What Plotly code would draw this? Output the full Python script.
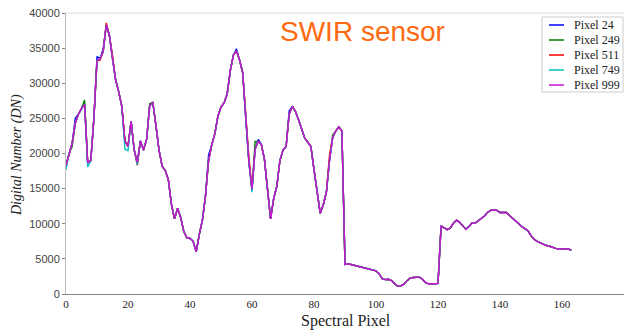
import plotly.graph_objects as go

# ---------------- data ----------------
spectral_pixel = list(range(0, 164))

base_dn = [
    18300, 20000, 21500, 24300, 25600, 26400, 27000, 18700, 19000, 25000,   # 0-9
    33200, 33500, 34500, 38300, 36800, 33500, 30500, 28800, 26700, 21800,   # 10-19
    21000, 24600, 20500, 18700, 21800, 20500, 22000, 26800, 27300, 24000,   # 20-29
    20500, 18200, 17600, 16300, 12800, 10700, 12200, 10900, 8900, 8000,     # 30-39
    7900, 7500, 6000, 8500, 10500, 14000, 19000, 21200, 22800, 25300,       # 40-49
    26600, 27200, 28500, 31800, 34000, 34600, 33300, 31500, 24800, 18800,   # 50-59
    14900, 20600, 21700, 21300, 19200, 15200, 10700, 13600, 15300, 19000,   # 60-69
    20500, 21000, 25600, 26700, 26000, 24800, 23500, 22200, 21600, 21000,   # 70-79
    17700, 14300, 11500, 12700, 14500, 19000, 22200, 23200, 23800, 23200,   # 80-89
    4200, 4300, 4200, 4100, 3950, 3800, 3700, 3600, 3500, 3450,             # 90-99
    3300, 2900, 2200, 2050, 2100, 1900, 1500, 1100, 1150, 1400,             # 100-109
    1900, 2250, 2350, 2400, 2400, 2100, 1600, 1450, 1400, 1450,             # 110-119
    1500, 9700, 9400, 9150, 9400, 10100, 10500, 10200, 9700, 9200,          # 120-129
    9600, 10100, 10100, 10400, 10800, 11100, 11600, 11900, 11950, 11900,    # 130-139
    11600, 11600, 11600, 11200, 10800, 10300, 9900, 9600, 9300, 9000,       # 140-149
    8300, 7800, 7500, 7300, 7050, 6900, 6800, 6600, 6500, 6400,             # 150-159
    6450, 6500, 6450, 6200,                                                 # 160-163
]

# small per-pixel departures of each sensor pixel from the common curve
pixel24_changes = {3: 25000, 10: 33800, 12: 34900, 46: 19800, 55: 34900, 62: 22000, 72: 26100}
pixel249_changes = {2: 21000, 6: 27600, 27: 27100, 61: 21700, 86: 22600}
pixel511_changes = {11: 33300, 13: 38600, 15: 34000, 23: 18300, 59: 19500, 85: 19800}
pixel749_changes = {0: 17700, 7: 18100, 19: 20600, 20: 20400, 23: 18400, 60: 14500}
pixel999_changes = {}

series_names = ["Pixel 24", "Pixel 249", "Pixel 511", "Pixel 749", "Pixel 999"]
series_changes = [pixel24_changes, pixel249_changes, pixel511_changes,
                  pixel749_changes, pixel999_changes]
series_colors = ["#0000ff", "#008000", "#ff0000", "#00bfbf", "#c814d0"]

x_ticks = list(range(0, 181, 20))
y_ticks = list(range(0, 40001, 5000))

# ---------------- figure ----------------
W, H = 625, 331
ML, MR, MT, MB = 66, 1, 13, 37
PW, PH = W - ML - MR, H - MT - MB


def px_x(px):
    return (px - ML) / PW


def px_y(py):
    return 1 - (py - MT) / PH


fig = go.Figure()
for name, changes, color in zip(series_names, series_changes, series_colors):
    yvals = [changes.get(i, v) for i, v in enumerate(base_dn)]
    fig.add_trace(go.Scatter(x=spectral_pixel, y=yvals, mode="lines", name=name,
                             line=dict(color=color, width=1.4), showlegend=False))

shapes = []
annotations = []

# top frame line
shapes.append(dict(type="line", xref="paper", yref="paper", x0=0, x1=1, y0=1, y1=1,
                   line=dict(color="#dddddd", width=1)))

# legend (drawn to match the reference box)
shapes.append(dict(type="rect", xref="paper", yref="paper",
                   x0=px_x(542), x1=px_x(623), y0=px_y(92), y1=px_y(17),
                   line=dict(color="#cccccc", width=1), fillcolor="white"))
row_y = [25, 40, 55, 70, 85]
for name, color, ry in zip(series_names, series_colors, row_y):
    shapes.append(dict(type="line", xref="paper", yref="paper",
                       x0=px_x(549), x1=px_x(564), y0=px_y(ry), y1=px_y(ry),
                       line=dict(color=color, width=1.5)))
    annotations.append(dict(text=name, xref="paper", yref="paper", x=px_x(572), y=px_y(ry),
                            xanchor="left", yanchor="middle", showarrow=False,
                            font=dict(family="Liberation Serif", size=12, color="#222222")))

# title
annotations.append(dict(text="SWIR sensor", xref="paper", yref="paper",
                        x=px_x(278), y=px_y(31), xanchor="left", yanchor="middle",
                        showarrow=False,
                        font=dict(family="Liberation Sans", size=28, color="#ff6a10")))

# axis titles
annotations.append(dict(text="Spectral Pixel", xref="paper", yref="paper",
                        x=px_x(346), y=px_y(321), xanchor="center", yanchor="middle",
                        showarrow=False,
                        font=dict(family="Liberation Serif", size=16, color="#222222")))
annotations.append(dict(text="<i>Digital Number (DN)</i>", xref="paper", yref="paper",
                        x=px_x(17), y=px_y(155), xanchor="center", yanchor="middle",
                        textangle=-90, showarrow=False,
                        font=dict(family="Liberation Serif", size=14, color="#222222")))

fig.update_layout(
    width=W, height=H,
    margin=dict(l=ML, r=MR, t=MT, b=MB),
    paper_bgcolor="white", plot_bgcolor="white",
    shapes=shapes, annotations=annotations,
    showlegend=False,
)
fig.update_xaxes(range=[0, 180], tickvals=x_ticks, ticktext=[str(t) for t in x_ticks],
                 showgrid=False, zeroline=False, showline=True, linecolor="#888888",
                 linewidth=1, ticks="", tickfont=dict(family="Liberation Serif", size=11,
                                                      color="#222222"))
fig.update_yaxes(range=[0, 40000], tickvals=y_ticks, ticktext=[str(t) for t in y_ticks],
                 showgrid=False, zeroline=False, showline=True, linecolor="#bbbbbb",
                 linewidth=1, ticks="outside", ticklen=3, tickcolor="#888888",
                 tickfont=dict(family="Liberation Sans", size=11, color="#444444"))

fig.write_html("out.html")
